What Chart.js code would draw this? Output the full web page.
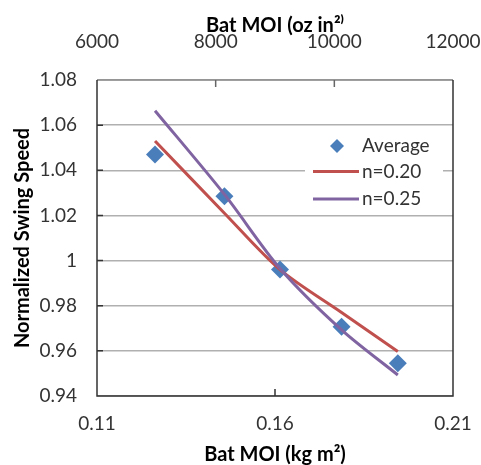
<!DOCTYPE html>
<html>
<head>
<meta charset="utf-8">
<script src="https://cdn.jsdelivr.net/npm/chart.js@4"></script>
<style>
  html, body { margin: 0; padding: 0; background: #fff; }
  #wrap { width: 481px; height: 465px; }
</style>
</head>
<body>
<div id="wrap"><canvas id="chart" width="481" height="465"></canvas></div>
<script>
// bat moment of inertia (kg m^2) for the five test bats
const moiKg = [0.1263, 0.1458, 0.1614, 0.1787, 0.1945];
// measured swing speed, normalized
const avgSpeed = [1.047, 1.0285, 0.996, 0.9707, 0.9545];
// power-law fits v ~ MOI^-n
const fitN020 = [1.053, 1.021, 0.996, 0.977, 0.9597];
const fitN025 = [1.0664, 1.0293, 0.9965, 0.9693, 0.9493];

const kgTicks = [0.11, 0.16, 0.21];
const ozTicks = [6000, 8000, 10000, 12000];
const speedTicks = [0.94, 0.96, 0.98, 1, 1.02, 1.04, 1.06, 1.08];

const FONT = 'Lato, "Open Sans", sans-serif';
const TXT = '#333';
const BLUE = '#4a7ebb';
const RED = '#c0504d';
const PURPLE = '#8064a2';

const pts = ys => moiKg.map((x, i) => ({ x, y: ys[i] }));

const tickFont = { family: FONT, size: 19 };
const titleFont = { family: FONT, size: 20, weight: 'bold', lineHeight: 1 };

// axis box, inward tick marks and the boxed legend
const frame = {
  id: 'frame',
  afterDatasetsDraw(chart) {
    const { ctx, chartArea: a, scales } = chart;
    ctx.save();
    ctx.lineWidth = 1.5;

    ctx.strokeStyle = '#8c8c8c';
    ctx.beginPath();
    ctx.moveTo(a.left, a.top);
    ctx.lineTo(a.right, a.top);
    ctx.stroke();

    ctx.strokeStyle = '#333';
    ctx.beginPath();
    ctx.moveTo(a.left, a.top);
    ctx.lineTo(a.left, a.bottom);
    ctx.lineTo(a.right, a.bottom);
    ctx.lineTo(a.right, a.top);
    ctx.stroke();

    ctx.beginPath();
    for (const v of speedTicks.slice(1, -1)) {
      const y = scales.y.getPixelForValue(v);
      ctx.moveTo(a.left, y);
      ctx.lineTo(a.left + 6, y);
    }
    for (const v of kgTicks.slice(1, -1)) {
      const x = scales.x.getPixelForValue(v);
      ctx.moveTo(x, a.bottom);
      ctx.lineTo(x, a.bottom - 7);
    }
    ctx.stroke();
    ctx.strokeStyle = '#666';
    ctx.beginPath();
    for (const v of ozTicks.slice(1, -1)) {
      const x = scales.x2.getPixelForValue(v);
      ctx.moveTo(x, a.top);
      ctx.lineTo(x, a.top + 7);
    }
    ctx.stroke();

    // legend
    const lx = a.right - 148;
    const ly = a.top + 53;
    ctx.fillStyle = '#fff';
    ctx.fillRect(lx, ly, 138, 78);

    ctx.font = `19px ${FONT}`;
    ctx.textBaseline = 'middle';
    ctx.textAlign = 'left';
    const textX = lx + 57;
    const rows = [ly + 13, ly + 38.5, ly + 66];

    ctx.fillStyle = BLUE;
    ctx.beginPath();
    const dx = lx + 32, dy = rows[0];
    ctx.moveTo(dx - 7, dy);
    ctx.lineTo(dx, dy - 7);
    ctx.lineTo(dx + 7, dy);
    ctx.lineTo(dx, dy + 7);
    ctx.closePath();
    ctx.fill();

    ctx.lineWidth = 3;
    [[RED, rows[1]], [PURPLE, rows[2]]].forEach(([c, y]) => {
      ctx.strokeStyle = c;
      ctx.beginPath();
      ctx.moveTo(lx + 8, y);
      ctx.lineTo(lx + 54, y);
      ctx.stroke();
    });

    ctx.fillStyle = TXT;
    ctx.fillText('Average', textX, rows[0]);
    ctx.fillText('n=0.20', textX, rows[1]);
    ctx.fillText('n=0.25', textX, rows[2]);
    ctx.restore();
  }
};

new Chart(document.getElementById('chart'), {
  type: 'scatter',
  data: {
    datasets: [
      {
        label: 'Average',
        data: pts(avgSpeed),
        pointStyle: 'rectRot',
        pointRadius: 9,
        backgroundColor: BLUE,
        borderWidth: 0,
        order: 3
      },
      {
        label: 'n=0.20',
        data: pts(fitN020),
        showLine: true,
        pointRadius: 0,
        borderColor: RED,
        borderWidth: 3,
        tension: 0.3,
        order: 2
      },
      {
        label: 'n=0.25',
        data: pts(fitN025),
        showLine: true,
        pointRadius: 0,
        borderColor: PURPLE,
        borderWidth: 3,
        tension: 0.3,
        order: 1
      }
    ]
  },
  options: {
    responsive: false,
    animation: false,
    events: [],
    layout: { padding: { left: 0, right: 28, top: 0, bottom: 0 } },
    plugins: { legend: { display: false }, tooltip: { enabled: false } },
    scales: {
      x: {
        type: 'linear',
        position: 'bottom',
        min: 0.11,
        max: 0.21,
        afterBuildTicks: s => { s.ticks = kgTicks.map(value => ({ value })); },
        afterFit: s => { s.height = 69; },
        grid: { display: false, drawTicks: false },
        border: { display: false },
        ticks: {
          // tall line box pushes the labels down without adding side padding
          font: { ...tickFont, lineHeight: '56px' },
          color: TXT,
          padding: 0,
          maxRotation: 0,
          callback: v => v.toFixed(2)
        },
        title: {
          display: true,
          text: 'Bat MOI (kg m²)',
          font: titleFont,
          color: '#000',
          padding: { top: 0, bottom: 0 }
        }
      },
      x2: {
        type: 'linear',
        position: 'top',
        min: 6000,
        max: 12000,
        afterBuildTicks: s => { s.ticks = ozTicks.map(value => ({ value })); },
        afterFit: s => { s.height = 80; },
        grid: { display: false, drawTicks: false },
        border: { display: false },
        ticks: {
          font: { ...tickFont, lineHeight: '76px' },
          color: TXT,
          padding: 0,
          maxRotation: 0,
          callback: v => String(v)
        },
        title: {
          display: true,
          text: 'Bat MOI (oz in²⁾',
          font: titleFont,
          color: '#000',
          padding: { top: 16, bottom: 0 }
        }
      },
      y: {
        type: 'linear',
        position: 'left',
        min: 0.94,
        max: 1.08,
        afterBuildTicks: s => { s.ticks = speedTicks.map(value => ({ value })); },
        afterFit: s => { s.width = 97; },
        grid: { color: '#b0b0b0', lineWidth: 1.5, drawTicks: false },
        border: { display: false },
        ticks: {
          font: tickFont,
          color: TXT,
          padding: 20,
          callback: v => String(parseFloat(v.toFixed(2)))
        },
        title: {
          display: true,
          text: 'Normalized Swing Speed',
          font: titleFont,
          color: '#000',
          padding: { top: 13, bottom: 0 }
        }
      }
    }
  },
  plugins: [frame]
});
</script>
</body>
</html>
